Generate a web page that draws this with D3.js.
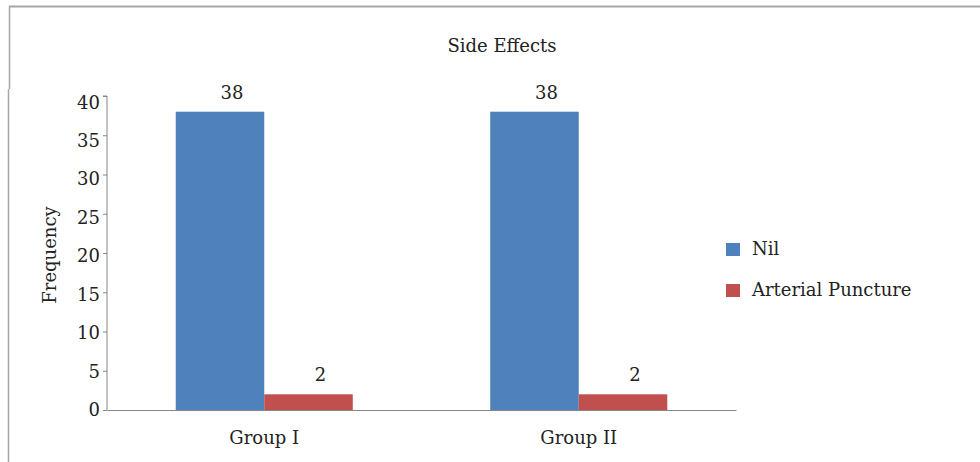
<!DOCTYPE html>
<html>
<head>
<meta charset="utf-8">
<script src="https://cdn.jsdelivr.net/npm/d3@7"></script>
<style>
  body { margin: 0; background: #fff; }
  text { font-family: "DejaVu Serif", serif; fill: #222; }
</style>
</head>
<body>
<script>
const groups = ["Group I", "Group II"];
const seriesNames = ["Nil", "Arterial Puncture"];
const nilValues = [38, 38];
const punctureValues = [2, 2];
const yTicks = [0, 5, 10, 15, 20, 25, 30, 35, 40];
const colors = ["#4F81BD", "#C0504D"];

const W = 980, H = 462;
const margin = { top: 96, right: 244, bottom: 52, left: 107 };
const width = W - margin.left - margin.right;
const height = H - margin.top - margin.bottom;
const fs = "18px";
const ff = "DejaVu Serif, serif";

const root = d3.select("body").append("svg")
    .attr("width", W)
    .attr("height", H);

// outer frame (top and left edges only)
root.append("line")
    .attr("x1", 9).attr("x2", W).attr("y1", 6.5).attr("y2", 6.5)
    .attr("stroke", "#a6a6a6").attr("stroke-width", 2);
root.append("line")
    .attr("x1", 9.5).attr("x2", 9.5).attr("y1", 6).attr("y2", 89)
    .attr("stroke", "#a6a6a6").attr("stroke-width", 1.5);
root.append("line")
    .attr("x1", 8.5).attr("x2", 8.5).attr("y1", 89).attr("y2", H)
    .attr("stroke", "#a6a6a6").attr("stroke-width", 1.5);

root.append("text")
    .attr("x", 502).attr("y", 52)
    .attr("text-anchor", "middle")
    .style("font-size", fs)
    .text("Side Effects");

const svg = root.append("g")
    .attr("transform", `translate(${margin.left},${margin.top})`);

const data = groups.map((g, i) => ({ group: g, values: [nilValues[i], punctureValues[i]] }));

const x0 = d3.scaleBand()
    .domain(groups)
    .range([0, width])
    .paddingInner(0.437)
    .paddingOuter(0.2185);
const x1 = d3.scaleBand()
    .domain(seriesNames)
    .range([0, x0.bandwidth()]);
const y = d3.scaleLinear()
    .domain([0, 40])
    .range([height, 0]);

// y axis
const yAxis = svg.append("g")
    .call(d3.axisLeft(y).tickValues(yTicks).tickSize(4).tickPadding(3));
yAxis.select(".domain").attr("stroke", "#868686").attr("d", `M-4,0H0V${height}`);
yAxis.selectAll(".tick line").attr("stroke", "#868686");
// labels in the original sit a little lower toward the top of the axis
yAxis.selectAll(".tick text").style("font-size", fs).attr("fill", "#222")
    .style("font-family", ff)
    .attr("dy", d => (5.5 + d / 40 * 6.5) + "px");

// x axis
const xAxis = svg.append("g")
    .attr("transform", `translate(0,${height})`)
    .call(d3.axisBottom(x0).tickSize(0).tickPadding(21));
xAxis.select(".domain").attr("stroke", "#868686");
xAxis.selectAll(".tick text").style("font-size", fs).attr("fill", "#222")
    .style("font-family", ff)
    .attr("dy", "0.71em");

// bars
const grp = svg.selectAll(".grp")
    .data(data)
    .join("g")
    .attr("class", "grp")
    .attr("transform", d => `translate(${x0(d.group)},0)`);

grp.selectAll("rect")
    .data(d => d.values.map((v, i) => ({ key: seriesNames[i], value: v, i })))
    .join("rect")
    .attr("x", d => x1(d.key))
    .attr("y", d => y(d.value))
    .attr("width", x1.bandwidth())
    .attr("height", d => height - y(d.value))
    .attr("fill", d => colors[d.i]);

grp.selectAll(".val")
    .data(d => d.values.map((v, i) => ({ key: seriesNames[i], value: v, i })))
    .join("text")
    .attr("class", "val")
    .attr("x", d => x1(d.key) + x1.bandwidth() / 2 + 12)
    .attr("y", d => y(d.value) - 13)
    .attr("text-anchor", "middle")
    .style("font-size", fs)
    .text(d => d.value);

// y label
root.append("text")
    .attr("transform", "translate(56,255) rotate(-90)")
    .attr("text-anchor", "middle")
    .style("font-size", fs)
    .text("Frequency");

// legend
const legend = root.append("g")
    .attr("transform", "translate(726,243)");
const li = legend.selectAll("g")
    .data(seriesNames)
    .join("g")
    .attr("transform", (d, i) => `translate(0,${i * 41})`);
li.append("rect")
    .attr("width", 14).attr("height", 13)
    .attr("fill", (d, i) => colors[i]);
li.append("text")
    .attr("x", 26).attr("y", 12)
    .style("font-size", fs)
    .text(d => d);
</script>
</body>
</html>
